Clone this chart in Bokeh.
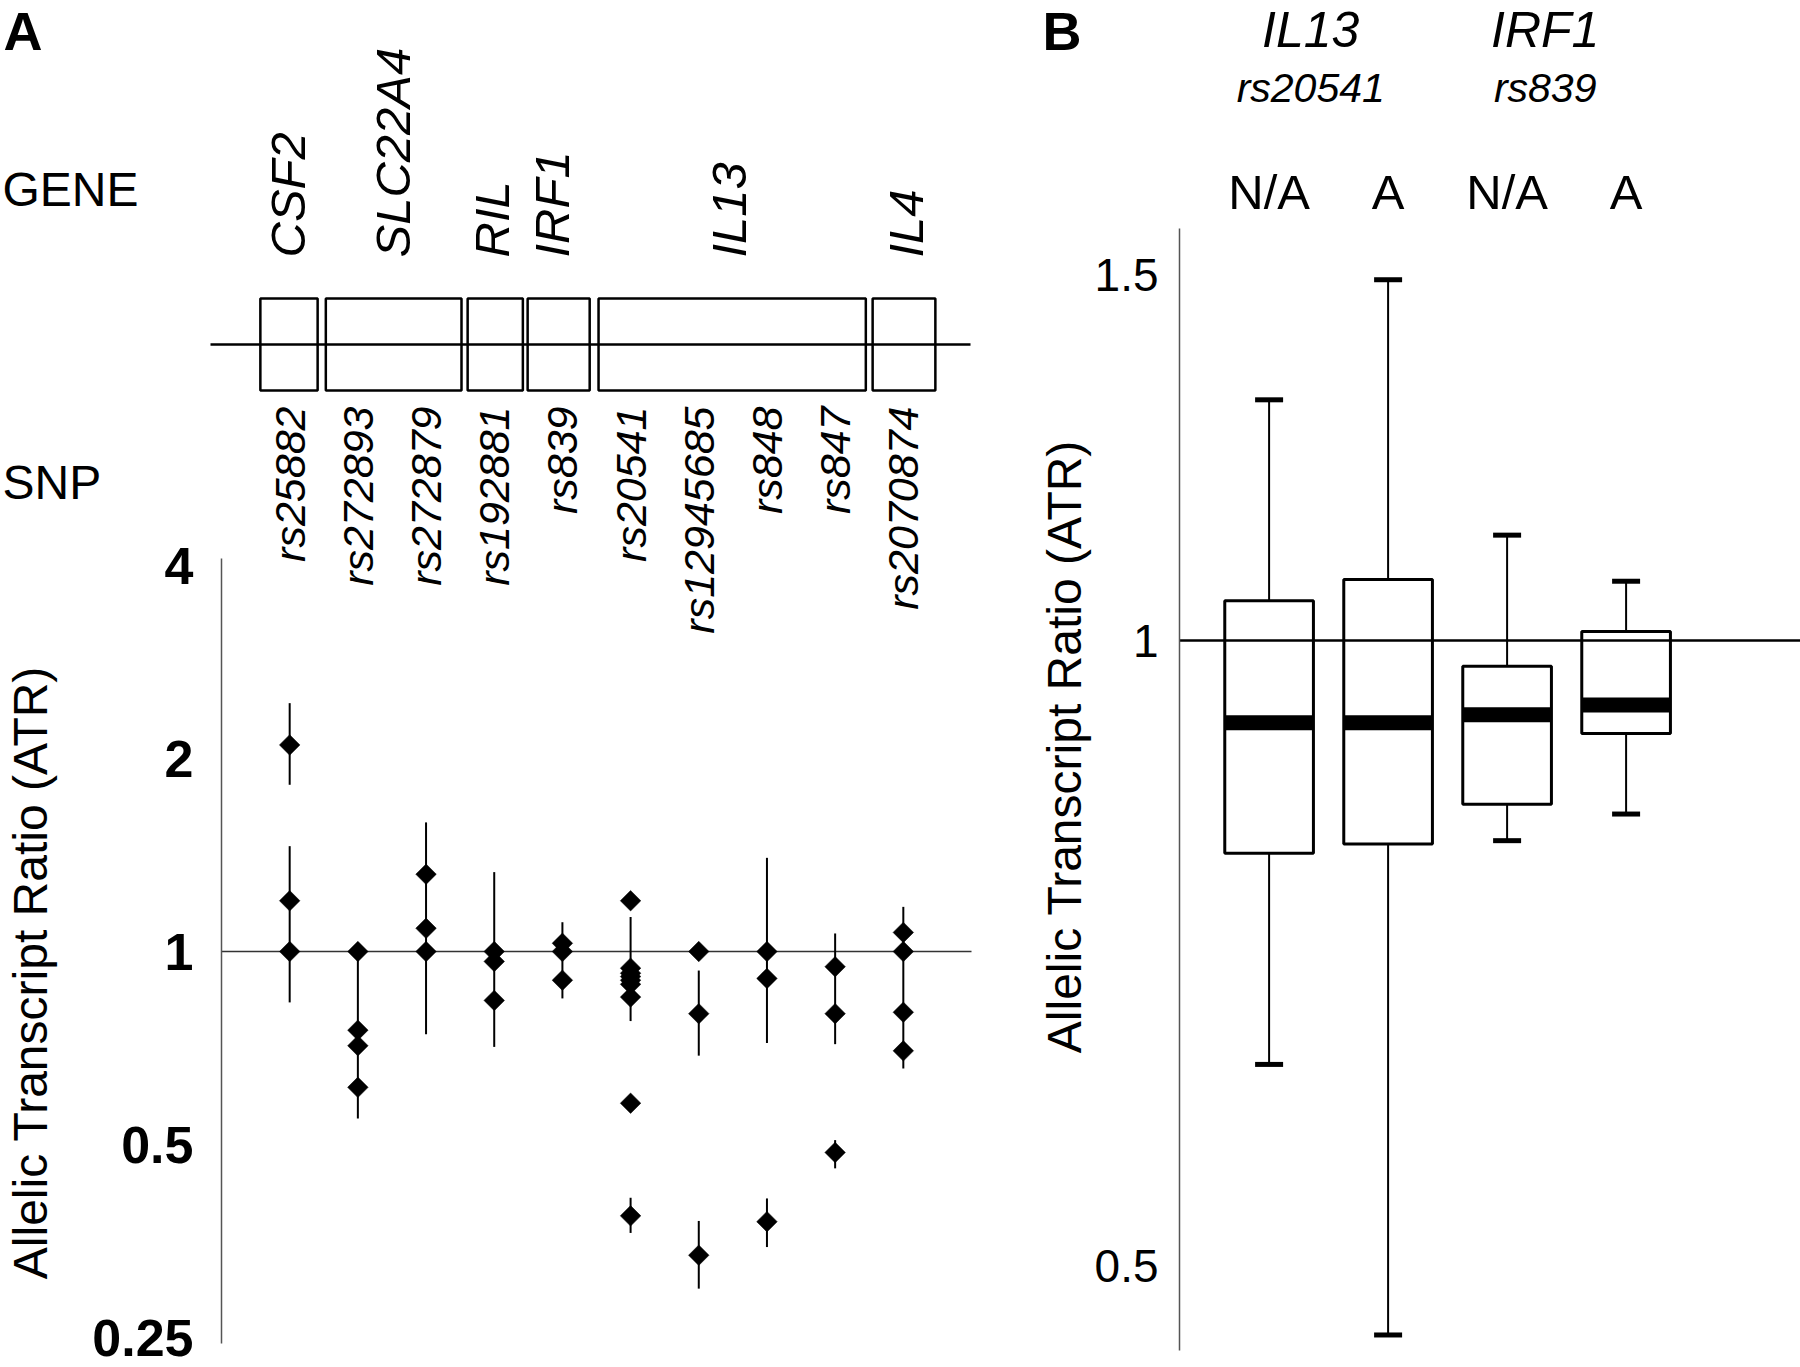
import math

from bokeh.core.properties import value
from bokeh.embed import file_html
from bokeh.layouts import row
from bokeh.models import (CustomJSTickFormatter, FixedTicker, LinearScale, Range1d)
from bokeh.plotting import figure
from bokeh.resources import INLINE

FONT = "Liberation Sans"

# ---------------- Panel A: allelic transcript ratios per SNP ----------------
snp_names = ["rs25882", "rs272893", "rs272879", "rs192881", "rs839",
             "rs20541", "rs12945685", "rs848", "rs847", "rs2070874"]

gene_names = ["CSF2", "SLC22A4", "RIL", "IRF1", "IL13", "IL4"]

# ATR of every measured individual, grouped by SNP (same order as snp_names)
atr_rs25882 = [2.10, 1.20, 1.00]
atr_rs272893 = [1.00, 0.754, 0.713, 0.614]
atr_rs272879 = [1.32, 1.087, 1.00]
atr_rs192881 = [1.00, 0.965, 0.839]
atr_rs839 = [1.03, 1.00, 0.902]
atr_rs20541 = [1.20, 0.942, 0.925, 0.914, 0.902, 0.889, 0.849, 0.58, 0.387]
atr_rs12945685 = [1.00, 0.80, 0.336]
atr_rs848 = [1.00, 0.908, 0.379]
atr_rs847 = [0.947, 0.80, 0.486]
atr_rs2070874 = [1.071, 1.00, 0.804, 0.70]

# error-bar extents (low, high) per SNP
ci_rs25882 = [(1.82, 2.44), (0.833, 1.46)]
ci_rs272893 = [(0.549, 1.00)]
ci_rs272879 = [(0.743, 1.59)]
ci_rs192881 = [(0.71, 1.33)]
ci_rs839 = [(0.845, 1.111)]
ci_rs20541 = [(0.779, 1.132), (0.364, 0.413)]
ci_rs12945685 = [(0.688, 0.934), (0.298, 0.38)]
ci_rs848 = [(0.72, 1.40), (0.346, 0.412)]
ci_rs847 = [(0.717, 1.067), (0.459, 0.508)]
ci_rs2070874 = [(0.657, 1.174)]

atr_values = [atr_rs25882, atr_rs272893, atr_rs272879, atr_rs192881, atr_rs839,
              atr_rs20541, atr_rs12945685, atr_rs848, atr_rs847, atr_rs2070874]
ci_values = [ci_rs25882, ci_rs272893, ci_rs272879, ci_rs192881, ci_rs839,
             ci_rs20541, ci_rs12945685, ci_rs848, ci_rs847, ci_rs2070874]

ticks_a = [0.25, 0.5, 1, 2, 4]
axis_a_bounds = (0.2449, 4.10)

# ---------------- Panel B: box plots by genotype group ----------------
box_groups = ["N/A", "A", "N/A", "A"]
box_loci = ["IL13", "IRF1"]
box_locus_snps = ["rs20541", "rs839"]
box_q1 = [0.790, 0.798, 0.834, 0.902]
box_median = [0.913, 0.913, 0.921, 0.931]
box_q3 = [1.045, 1.070, 0.972, 1.010]
box_low = [0.625, 0.463, 0.801, 0.825]
box_high = [1.306, 1.492, 1.124, 1.068]

ticks_b = [0.5, 1, 1.5]
axis_b_bounds = (0.455, 1.579)

# ---------------- layout constants (column units / canvas pixels) ----------------
gene_box_left = [0.57, 1.53, 3.61, 4.49, 5.53, 9.55]
gene_box_right = [1.41, 3.52, 4.42, 5.40, 9.45, 10.47]
gene_label_x = [0.98, 2.52, 3.96, 4.84, 7.44, 10.04]
locus_label_x = [1.35, 3.32]

H = 1367
tick_fmt = CustomJSTickFormatter(code="return tick.toString()")
ITALIC_KW = dict(text_font=value(FONT), text_font_style="italic", text_color="black")
PLAIN_KW = dict(text_font=value(FONT), text_font_style="normal", text_color="black")
BOLD_KW = dict(text_font=value(FONT), text_font_style="bold", text_color="black")


def make_panel(width, x_range, y_range, px_x, axis_at, bounds, ticks,
               font_size, font_style, standoff):
    p = figure(width=width, height=H, y_axis_type="log",
               x_range=x_range, y_range=y_range,
               output_backend="svg", toolbar_location=None, min_border=0)
    # canvas-pixel coordinates for the schematic parts of the panel
    p.extra_x_ranges = {"px": Range1d(*px_x)}
    p.extra_y_ranges = {"px": Range1d(H, 0)}
    p.extra_y_scales = {"px": LinearScale()}
    p.xaxis.visible = False
    p.xgrid.visible = False
    p.ygrid.visible = False
    p.outline_line_color = None
    p.background_fill_color = "white"
    p.border_fill_color = "white"
    ax = p.yaxis[0]
    ax.fixed_location = axis_at
    ax.bounds = bounds
    ax.ticker = FixedTicker(ticks=ticks, minor_ticks=[])
    ax.formatter = tick_fmt
    ax.axis_line_color = "#555555"
    ax.axis_line_width = 1.5
    ax.major_tick_line_color = None
    ax.minor_tick_line_color = None
    ax.major_tick_out = 0
    ax.major_tick_in = 0
    ax.major_label_standoff = standoff
    ax.major_label_text_font = FONT
    ax.major_label_text_font_size = font_size
    ax.major_label_text_font_style = font_style
    ax.major_label_text_color = "black"
    return p


# ---------------- Panel A figure ----------------
PPU_A = 750 / 11          # pixels per SNP column
pA = make_panel(1000, Range1d(-221 / PPU_A, 779 / PPU_A), Range1d(0.2245, 30.43),
                (0, 1000), 0, axis_a_bounds, ticks_a, "52px", "bold", 28)

pA.segment(x0=[0], y0=[1], x1=[11], y1=[1], line_color="#333333", line_width=1.5)

seg_x, seg_lo, seg_hi = [], [], []
pt_x, pt_y = [], []
for i, (vals, cis) in enumerate(zip(atr_values, ci_values), start=1):
    pt_x += [i] * len(vals)
    pt_y += vals
    for lo, hi in cis:
        seg_x.append(i)
        seg_lo.append(lo)
        seg_hi.append(hi)

pA.segment(x0=seg_x, y0=seg_lo, x1=seg_x, y1=seg_hi, line_color="black", line_width=2)
pA.scatter(pt_x, pt_y, marker="square", angle=math.pi / 4, size=14.5,
           fill_color="black", line_color="black", line_width=0.5)

# panel letter, row titles and axis title
pA.text(x=[3], y=[30], text=["A"], x_range_name="px", y_range_name="px",
        text_font_size="54px", text_align="left", text_baseline="middle", **BOLD_KW)
pA.text(x=[2, 2], y=[189, 482], text=["GENE", "SNP"], x_range_name="px", y_range_name="px",
        text_font_size="48px", text_align="left", text_baseline="middle", **PLAIN_KW)
pA.text(x=[30], y=[972], text=["Allelic Transcript Ratio (ATR)"], angle=math.pi / 2,
        x_range_name="px", y_range_name="px", text_font_size="48px",
        text_align="center", text_baseline="middle", **PLAIN_KW)

# gene map
pA.text(x=gene_label_x, y=[257] * len(gene_names), text=gene_names, y_range_name="px",
        angle=math.pi / 2, text_align="left", text_baseline="middle",
        text_font_size="49px", **ITALIC_KW)
pA.segment(x0=[210], y0=[344], x1=[970], y1=[344], x_range_name="px", y_range_name="px",
           line_color="black", line_width=2.5)
pA.quad(left=gene_box_left, right=gene_box_right, top=[298] * 6, bottom=[390] * 6,
        y_range_name="px", fill_color=None, line_color="black", line_width=2.5)

# SNP names above their columns
pA.text(x=list(range(1, len(snp_names) + 1)), y=[406] * len(snp_names), text=snp_names,
        y_range_name="px", angle=math.pi / 2, text_align="right", text_baseline="middle",
        text_font_size="43px", **ITALIC_KW)

# ---------------- Panel B figure ----------------
PPU_B = 119.0
X1_B = 1268.6            # canvas x of the first box
pB = make_panel(800, Range1d(1 + (1000 - X1_B) / PPU_B, 1 + (1800 - X1_B) / PPU_B),
                Range1d(0.4466, 2.0335), (1000, 1800), 1 + (1179 - X1_B) / PPU_B,
                axis_b_bounds, ticks_b, "46px", "normal", 21)

bx = list(range(1, len(box_groups) + 1))
pB.segment(x0=bx, y0=box_q3, x1=bx, y1=box_high, line_color="black", line_width=2)
pB.segment(x0=bx, y0=box_q1, x1=bx, y1=box_low, line_color="black", line_width=2)
pB.rect(x=bx, y=box_high, width=28, height=5, width_units="screen", height_units="screen",
        fill_color="black", line_color=None)
pB.rect(x=bx, y=box_low, width=28, height=5, width_units="screen", height_units="screen",
        fill_color="black", line_color=None)
pB.vbar(x=bx, width=0.745, bottom=box_q1, top=box_q3,
        fill_color="white", line_color="black", line_width=3)
pB.rect(x=bx, y=box_median, width=0.745, height=15, height_units="screen",
        fill_color="black", line_color=None)
pB.segment(x0=[1 + (1179 - X1_B) / PPU_B], y0=[1], x1=[6], y1=[1],
           line_color="black", line_width=2.5)

pB.text(x=[1042], y=[30], text=["B"], x_range_name="px", y_range_name="px",
        text_font_size="54px", text_align="left", text_baseline="middle", **BOLD_KW)
pB.text(x=[1064], y=[746], text=["Allelic Transcript Ratio (ATR)"], angle=math.pi / 2,
        x_range_name="px", y_range_name="px", text_font_size="48px",
        text_align="center", text_baseline="middle", **PLAIN_KW)
pB.text(x=locus_label_x, y=[29] * 2, text=box_loci, y_range_name="px",
        text_align="center", text_baseline="middle", text_font_size="50px", **ITALIC_KW)
pB.text(x=locus_label_x, y=[87] * 2, text=box_locus_snps, y_range_name="px",
        text_align="center", text_baseline="middle", text_font_size="41px", **ITALIC_KW)
pB.text(x=bx, y=[191] * 4, text=box_groups, y_range_name="px",
        text_align="center", text_baseline="middle", text_font_size="49px", **PLAIN_KW)

layout = row(pA, pB, spacing=0)
open("out.html", "w").write(file_html(layout, INLINE))
